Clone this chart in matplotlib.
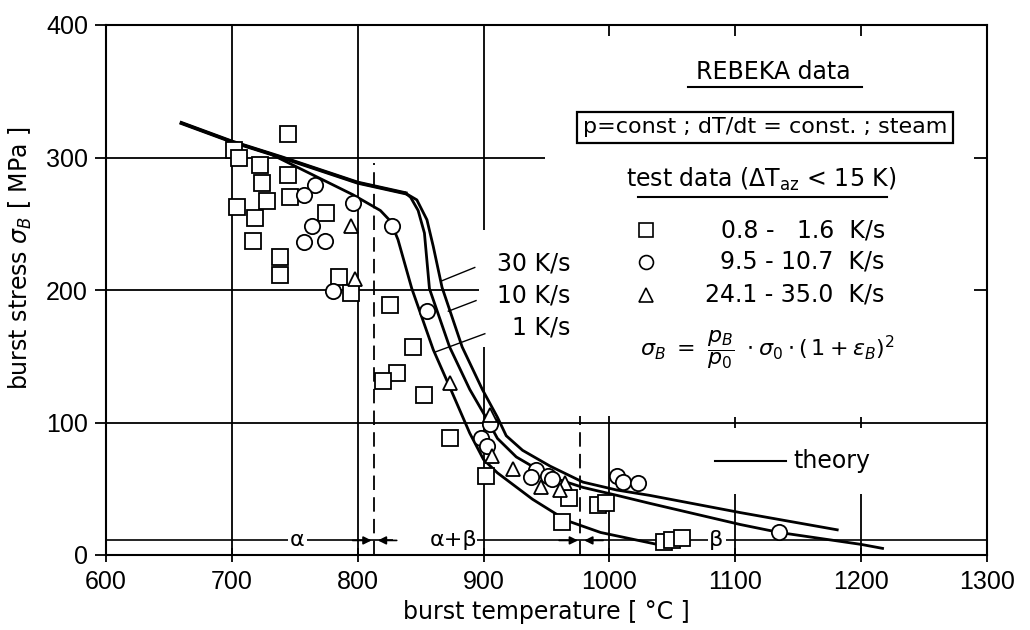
import numpy as np
import matplotlib
matplotlib.use("Agg")
import matplotlib.pyplot as plt
from matplotlib import font_manager
from matplotlib.lines import Line2D

names = {f.name for f in font_manager.fontManager.ttflist}
if "Liberation Sans Narrow" in names:
    narrow = "Liberation Sans Narrow"
elif "Liberation Sans" in names:
    narrow = "Liberation Sans"
else:
    narrow = "DejaVu Sans"

plt.rcParams["font.family"] = ["DejaVu Sans"]
plt.rcParams["mathtext.fontset"] = "dejavusans"

# test data: burst temperature [C], burst stress [MPa]
sq_T = [702, 706, 745, 722, 724, 728, 745, 746, 704, 718, 717, 775, 738, 738, 785,
        795, 826, 844, 831, 820, 853, 873, 902, 968, 991, 997, 962, 1043, 1050, 1058]
sq_s = [306, 300, 318, 294, 281, 267, 287, 270, 263, 254, 237, 258, 225, 211, 210,
        198, 189, 157, 137, 131, 121, 88, 60, 43, 38, 39, 25, 10, 11, 13]

ci_T = [766, 757, 796, 764, 757, 774, 780, 827, 855, 905, 898, 903, 942, 938, 951,
        954, 1006, 1011, 1023, 1135]
ci_s = [279, 272, 266, 248, 236, 237, 199, 248, 184, 99, 88, 82, 64, 59, 60,
        57, 60, 55, 54, 17]

tr_T = [795, 798, 873, 905, 907, 923, 946, 965, 961]
tr_s = [248, 208, 130, 106, 75, 65, 51, 54, 49]

# theory curves
k30_T = [660, 700, 740, 800, 838, 847, 855, 860, 867, 883, 899, 911, 918, 931, 953,
         979, 1006, 1032, 1104, 1181]
k30_s = [326, 312, 300, 281, 273, 268, 253, 233, 202, 157, 125, 104, 90, 79, 67,
         55, 49, 45, 32, 19]

k10_T = [838, 842, 848, 853, 857, 873, 889, 903, 911, 926, 953, 979, 1006, 1032,
         1104, 1135, 1200, 1217]
k10_s = [273, 270, 260, 243, 201, 157, 125, 102, 88, 74, 59, 51, 45, 39,
         23, 17, 8, 5]

k1_T = [660, 700, 730, 796, 818, 826, 832, 843, 860, 873, 889, 900, 911, 939, 966,
        993, 1038]
k1_s = [326, 312, 303, 272, 260, 252, 238, 201, 155, 127, 92, 72, 62, 42, 26,
        17, 8]

rate_labels = ["30 K/s", "10 K/s", "1 K/s"]
legend_rows = ["0.8 -   1.6  K/s", "9.5 - 10.7  K/s", "24.1 - 35.0  K/s"]

fig = plt.figure(figsize=(10.3, 6.3), dpi=100)
ax = fig.add_axes([106 / 1030, 1 - 555 / 630, 881 / 1030, 530 / 630])
ax.set_xlim(600, 1300)
ax.set_ylim(0, 400)

lk = dict(color="black", lw=1.3)

# grid (broken where the labels sit)
for t in [700, 800]:
    ax.vlines(t, 0, 400, **lk)
ax.vlines(900, 0, 157, **lk)
ax.vlines(900, 245, 400, **lk)
ax.vlines(1000, 0, 105, **lk)
for t in [1100, 1200]:
    ax.vlines(t, 0, 46, **lk)
    ax.vlines(t, 96, 104, **lk)
for t in [1000, 1100, 1200]:
    ax.vlines(t, 392, 400, **lk)
ax.hlines(100, 600, 1300, **lk)
ax.hlines(300, 600, 949, **lk)
ax.hlines(200, 600, 896, **lk)
for s in [200, 300]:
    ax.hlines(s, 1290, 1300, **lk)

# phase boundaries
ax.vlines(813, 0, 296, color="black", lw=1.3, linestyles=(0, (8, 4)))
ax.vlines(977, 0, 105, color="black", lw=1.3, linestyles=(0, (8, 4)))

ph = 11
for a, b in [(600, 745), (760, 828), (895, 1078), (1093, 1300)]:
    ax.hlines(ph, a, b, color="black", lw=1.2)
arw = dict(arrowstyle="-|>", color="black", lw=1.2, mutation_scale=12, shrinkA=0, shrinkB=0)
ax.annotate("", xy=(811, ph), xytext=(796, ph), arrowprops=arw)
ax.annotate("", xy=(816, ph), xytext=(831, ph), arrowprops=arw)
ax.annotate("", xy=(975, ph), xytext=(960, ph), arrowprops=arw)
ax.annotate("", xy=(980, ph), xytext=(995, ph), arrowprops=arw)
ax.text(752, ph, "α", ha="center", va="center", fontsize=16)
ax.text(876, ph, "α+β", ha="center", va="center", fontsize=16)
ax.text(1085, ph, "β", ha="center", va="center", fontsize=16)

# theory curves
ax.plot(k30_T, k30_s, color="black", lw=2.0, zorder=3)
ax.plot(k10_T, k10_s, color="black", lw=2.0, zorder=3)
ax.plot(k1_T, k1_s, color="black", lw=2.0, zorder=3)
ax.plot(k30_T[:5], k30_s[:5], color="black", lw=2.8, zorder=3)

# test data
mk = dict(ls="none", mfc="white", mec="black", mew=1.3, zorder=4)
ax.plot(sq_T, sq_s, marker="s", ms=11, **mk)
ax.plot(ci_T, ci_s, marker="o", ms=11, **mk)
ax.plot(tr_T, tr_s, marker="^", ms=10, **mk)

# heating rate labels with leaders
lab_y = [220, 196, 172]
lead = [((893, 217), (867, 207)), ((894, 192), (872, 184)), ((901, 167), (861, 153))]
for lab, y, (p0, p1) in zip(rate_labels, lab_y, lead):
    ax.text(969, y, lab, ha="right", va="center", fontsize=17)
    ax.plot([p0[0], p1[0]], [p0[1], p1[1]], color="black", lw=1.0)

# theory legend
ax.plot([1084, 1140], [71, 71], color="black", lw=1.5)
ax.text(1146, 71, "theory", ha="left", va="center", fontsize=17)

# text block (axes fraction)
tr = ax.transAxes
ax.text(0.757, 0.911, "REBEKA data", transform=tr, ha="center", va="center", fontsize=17)
ax.add_line(Line2D([0.661, 0.858], [0.883, 0.883], transform=tr, color="black", lw=1.5))
ax.text(0.748, 0.807, "p=const ; dT/dt = const. ; steam", transform=tr,
        ha="center", va="center", fontsize=16,
        bbox=dict(boxstyle="square,pad=0.25", fc="white", ec="black", lw=1.6))
ax.text(0.744, 0.709, r"test data ($\mathregular{\Delta T_{az}}$ < 15 K)", transform=tr,
        ha="center", va="center", fontsize=17)
ax.add_line(Line2D([0.604, 0.886], [0.675, 0.675], transform=tr, color="black", lw=1.5))

row_y = [0.613, 0.553, 0.491]
for m, y, lab in zip(["s", "o", "^"], row_y, legend_rows):
    ax.plot([0.613], [y], marker=m, ms=10, mfc="white", mec="black", mew=1.2,
            transform=tr, clip_on=False)
    ax.text(0.884, y, lab, transform=tr, ha="right", va="center", fontsize=17)

ax.text(0.606, 0.387, r"$\sigma_B\ =\ \dfrac{p_B}{p_0}\ \cdot\sigma_0\cdot(\,1+\varepsilon_B)^2$",
        transform=tr, ha="left", va="center", fontsize=16)

# axes
for sp in ax.spines.values():
    sp.set_linewidth(1.5)
ax.set_xticks(np.arange(600, 1301, 100))
ax.set_yticks(np.arange(0, 401, 100))
ax.tick_params(axis="x", direction="inout", length=10, width=1.3, pad=6)
ax.tick_params(axis="y", direction="out", length=8, width=1.3, pad=5)
for lab in ax.get_xticklabels() + ax.get_yticklabels():
    lab.set_fontfamily(narrow)
    lab.set_fontsize(18)

ax.set_xlabel("burst temperature [ °C ]", fontsize=17, labelpad=4)
ax.set_ylabel(r"burst stress $\sigma_B$ [ MPa ]", fontsize=17)
ax.yaxis.set_label_coords(-0.082, 0.56)

fig.savefig("out.png", dpi=100)
